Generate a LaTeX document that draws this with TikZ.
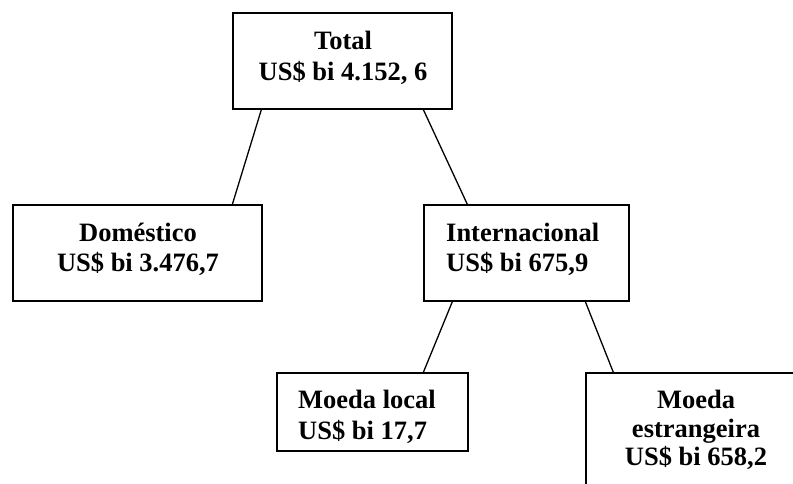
\documentclass[tikz,border=0pt]{standalone}
\usepackage{fontspec}
\setmainfont{Liberation Serif}
\begin{document}
\begin{tikzpicture}[x=1pt,y=-1pt,
  box/.style={draw=black,line width=1.3pt,rectangle,inner sep=0pt,fill=white},
  txt/.style={font=\bfseries\fontsize{26.5}{30}\selectfont,inner sep=0pt,anchor=base},
  txtl/.style={txt,anchor=base west},
  link/.style={draw=black,line width=1.3pt}]
\useasboundingbox (0,0) rectangle (793,483);
\clip (0,0) rectangle (793,483);
\fill[white] (0,0) rectangle (793,483);
% boxes
\node[box,minimum width=219pt,minimum height=96pt] (total) at (342.5,61) {};
\node[box,minimum width=249pt,minimum height=96pt] (dom) at (137.5,253) {};
\node[box,minimum width=205pt,minimum height=96pt] (intl) at (526.5,253) {};
\node[box,minimum width=191pt,minimum height=78pt] (local) at (372.5,412) {};
\node[box,minimum width=220pt,minimum height=127pt] (estr) at (696,436.5) {};
% connectors
\draw[link] ([xshift=29pt]total.south west) -- ([xshift=220pt]dom.north west);
\draw[link] ([xshift=191pt]total.south west) -- ([xshift=44pt]intl.north west);
\draw[link] ([xshift=29pt]intl.south west) -- ([xshift=147pt]local.north west);
\draw[link] ([xshift=162pt]intl.south west) -- ([xshift=28pt]estr.north west);
% texts
\node[txt] (t1) at (343,49.5) {Total};
\node[txt] (t2) at (343,80) {US\$ bi 4.152, 6};
\node[txt] (d1) at (138,241.5) {Doméstico};
\node[txt] (d2) at (138,271.5) {US\$ bi 3.476,7};
\node[txtl] (i1) at (446,241) {Internacional};
\node[txtl] (i2) at (446,271) {US\$ bi 675,9};
\node[txtl] (l1) at (298,408.5) {Moeda local};
\node[txtl] (l2) at (298,439) {US\$ bi 17,7};
\node[txt] (e1) at (696,408) {Moeda};
\node[txt] (e2) at (696,437) {estrangeira};
\node[txt] (e3) at (696,465.5) {US\$ bi 658,2};
\end{tikzpicture}
\end{document}
